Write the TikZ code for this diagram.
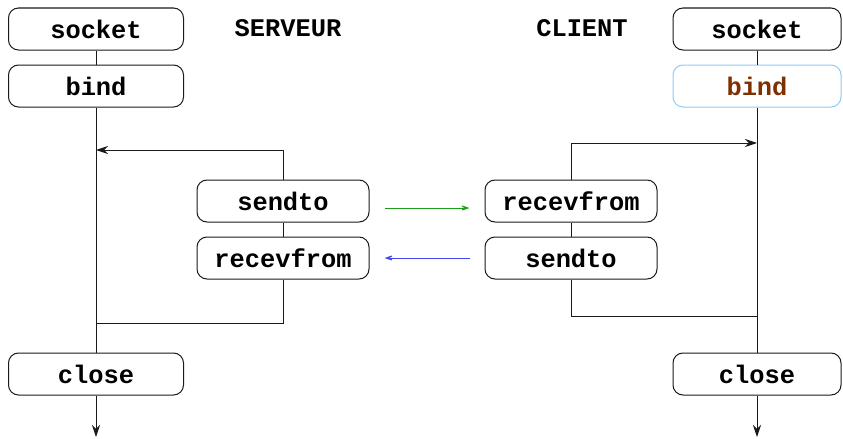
\documentclass[tikz,border=0pt]{standalone}
\usepackage{fontspec}
\setmonofont{Liberation Mono}
\usepackage{xcolor}
\usepackage{tikz}
\usetikzlibrary{arrows.meta,positioning}
\definecolor{ink}{HTML}{1A1A1A}
\definecolor{sky}{HTML}{8CCFF5}
\definecolor{rust}{HTML}{7F3000}
\definecolor{leaf}{HTML}{1E9E1E}
\definecolor{wave}{HTML}{4646F0}
\tikzset{
  call/.style={draw=ink,fill=white,rounded corners=5pt,line width=0.5pt,minimum width=86pt,minimum height=21pt,inner sep=0pt,font=\fontsize{12.7}{15}\selectfont\ttfamily\bfseries,text=black},
  side/.style={font=\fontsize{12.7}{15}\selectfont\ttfamily\bfseries,text=black},
  flow/.style={line width=0.5pt,draw=ink},
  arrow/.style={flow,-{Stealth[length=6pt,width=4pt,inset=2pt]}},
  msg/.style={line width=0.5pt,-{Stealth[length=6pt,width=4pt,inset=3.5pt]},shorten <=7.5pt,shorten >=7.5pt},
}
\begin{document}
\begin{tikzpicture}[x=0.5pt,y=-0.5pt,node distance=7pt]
    \useasboundingbox (0,0) rectangle (843,439);
    % serveur
    \node[call,minimum width=87.5pt] (lsock) at (96,29) {socket};
    \node[call,minimum width=87.5pt,below=of lsock] (lbind) {bind};
    \node[call,minimum width=87.5pt] (lclose) at (96,374) {close};
    \node[call] (lsend) at (283,201) {sendto};
    \node[call,below=of lsend] (lrecv) {recevfrom};
    \node[side] (srv) at (288,28) {SERVEUR};
    \coordinate (lin) at (96,150);
    \coordinate (lout) at (96,323);
    \coordinate (lend) at (96,437);
    \draw[flow] (lsock) -- (lbind);
    \draw[flow] (lbind) -- (lclose);
    \draw[arrow] (lclose) -- (lend);
    \draw[arrow] (lsend.north) |- (lin);
    \draw[flow] (lsend) -- (lrecv);
    \draw[flow] (lrecv.south) |- (lout);
    % client
    \node[call,minimum width=84pt] (rsock) at (757,29) {socket};
    \node[call,minimum width=84pt,below=of rsock,draw=sky,text=rust] (rbind) {bind};
    \node[call,minimum width=84pt] (rclose) at (757,374) {close};
    \node[call] (rrecv) at (571,201) {recevfrom};
    \node[call,below=of rrecv] (rsend) {sendto};
    \node[side] (cli) at (582,28) {CLIENT};
    \coordinate (rin) at (757,143);
    \coordinate (rout) at (757,316);
    \coordinate (rend) at (757,437);
    \draw[flow] (rsock) -- (rbind);
    \draw[flow] (rbind) -- (rclose);
    \draw[arrow] (rclose) -- (rend);
    \draw[arrow] (rrecv.north) |- (rin);
    \draw[flow] (rrecv) -- (rsend);
    \draw[flow] (rsend.south) |- (rout);
    % messages
    \draw[msg,leaf] ([yshift=-3.5pt]lsend.east) -- ([yshift=-3.5pt]rrecv.west);
    \draw[msg,wave] (rsend.west) -- (lrecv.east);
\end{tikzpicture}
\end{document}
